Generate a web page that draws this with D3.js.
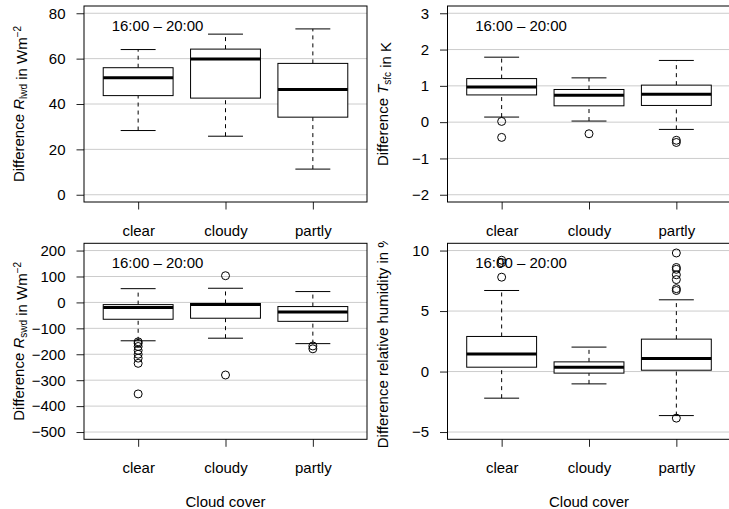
<!DOCTYPE html>
<html>
<head>
<meta charset="utf-8">
<script src="https://cdn.jsdelivr.net/npm/d3@7"></script>
<style>
  body { margin: 0; background: #fff; }
  text { font-family: "Liberation Sans", Arial, Helvetica, sans-serif; }
</style>
</head>
<body>
<div id="chart"></div>
<script>
//Data: [lower whisker, q1, median, q3, upper whisker]

var categories = ["clear", "cloudy", "partly"];
var periodLabel = "16:00 \u2013 20:00";

var lwdStats = [[28.3, 43.7, 51.6, 56.0, 64.0],
                [25.8, 42.6, 59.8, 64.2, 70.8],
                [11.3, 34.2, 46.4, 57.9, 73.1]];
var lwdOut = [[], [], []];
var lwdTicks = [0, 20, 40, 60, 80];

var tsfcStats = [[0.14, 0.75, 0.97, 1.20, 1.79],
                 [0.03, 0.45, 0.74, 0.90, 1.22],
                 [-0.20, 0.46, 0.77, 1.02, 1.70]];
var tsfcOut = [[0.02, -0.42], [-0.32], [-0.50, -0.56]];
var tsfcTicks = [-2, -1, 0, 1, 2, 3];

var swdStats = [[-148, -65, -20, -8.5, 53],
                [-138, -61, -8, -4, 54.6],
                [-159, -73, -37, -16, 41.8]];
var swdOut = [[-152, -158, -170, -185, -200, -215, -235, -353], [103, -280], [-168, -179]];
var swdTicks = [-500, -400, -300, -200, -100, 0, 100, 200];

var rhStats = [[-2.2, 0.36, 1.44, 2.90, 6.70],
               [-1.02, -0.13, 0.36, 0.80, 2.02],
               [-3.64, 0.11, 1.07, 2.68, 5.93]];
var rhOut = [[9.2, 9.0, 7.8], [], [9.8, 8.6, 8.45, 8.0, 7.6, 6.85, 6.7, -3.85]];
var rhTicks = [-5, 0, 5, 10];

var svgWidth = 729;
var svgHeight = 509;

var svg = d3.select("#chart")
  .append("svg")
  .attr("width", svgWidth)
  .attr("height", svgHeight);

//clip for the bottom right figure region (its y label runs off the top)
svg.append("clipPath")
  .attr("id", "clipBR")
  .append("rect")
  .attr("x", 365).attr("y", 241)
  .attr("width", 364).attr("height", 268);

var panels = [
  {x0: 84, y0: 6, stats: lwdStats, out: lwdOut, ylim: [0, 80], ticks: lwdTicks,
   ylab: ["Difference ", {i: "R"}, {sub: "lwd"}, " in Wm", {sup: "\u22122"}], xlab: false},
  {x0: 447.5, y0: 6, stats: tsfcStats, out: tsfcOut, ylim: [-2, 3], ticks: tsfcTicks,
   ylab: ["Difference ", {i: "T"}, {sub: "sfc"}, " in K"], xlab: false},
  {x0: 84, y0: 243.3, stats: swdStats, out: swdOut, ylim: [-500, 200], ticks: swdTicks,
   ylab: ["Difference ", {i: "R"}, {sub: "swd"}, " in Wm", {sup: "\u22122"}], xlab: true},
  {x0: 447.5, y0: 243.3, stats: rhStats, out: rhOut, ylim: [-5, 10], ticks: rhTicks,
   ylab: ["Difference relative humidity in %"], xlab: true, clip: "clipBR"}
];

var plotW = 283;
var plotH = 196;

panels.forEach(function(p) {
  var g = svg.append("g");

  var x = d3.scaleLinear()
    .domain([0.38, 3.62])
    .range([p.x0, p.x0 + plotW]);

  var ext = (p.ylim[1] - p.ylim[0]) * 0.04;
  var y = d3.scaleLinear()
    .domain([p.ylim[0] - ext, p.ylim[1] + ext])
    .range([p.y0 + plotH, p.y0]);

  //grid lines
  g.selectAll(".grid")
    .data(p.ticks)
    .enter()
    .append("line")
    .attr("x1", p.x0).attr("x2", p.x0 + plotW)
    .attr("y1", d => y(d)).attr("y2", d => y(d))
    .attr("stroke", "#cccccc")
    .attr("stroke-width", 1);

  //y axis, R style: ticks out, labels horizontal
  var leftAxis = d3.axisLeft(y)
    .tickValues(p.ticks)
    .tickSize(7.5)
    .tickPadding(11)
    .tickFormat(d3.format("d"));

  var yAxis = g.append("g")
    .attr("transform", `translate(${p.x0}, 0)`)
    .call(leftAxis);
  yAxis.select(".domain").remove();
  yAxis.selectAll("text").attr("font-size", "15px").attr("font-family", null);
  yAxis.selectAll("line").attr("stroke", "#222");

  //x axis
  var bottomAxis = d3.axisBottom(x)
    .tickValues([1, 2, 3])
    .tickSize(7.5)
    .tickPadding(16)
    .tickFormat((d, i) => categories[i]);

  var xAxis = g.append("g")
    .attr("transform", `translate(0, ${p.y0 + plotH})`)
    .call(bottomAxis);
  xAxis.select(".domain").remove();
  xAxis.selectAll("text").attr("font-size", "15px").attr("font-family", null);
  xAxis.selectAll("line").attr("stroke", "#222");

  //boxes
  var boxes = g.selectAll(".box")
    .data(p.stats)
    .enter()
    .append("g");

  //dashed whiskers
  boxes.append("line")
    .attr("x1", (d, i) => x(i + 1)).attr("x2", (d, i) => x(i + 1))
    .attr("y1", d => y(d[0])).attr("y2", d => y(d[1]))
    .attr("stroke", "#000").attr("stroke-dasharray", "4,4");
  boxes.append("line")
    .attr("x1", (d, i) => x(i + 1)).attr("x2", (d, i) => x(i + 1))
    .attr("y1", d => y(d[3])).attr("y2", d => y(d[4]))
    .attr("stroke", "#000").attr("stroke-dasharray", "4,4");

  //staples
  [0, 4].forEach(function(k) {
    boxes.append("line")
      .attr("x1", (d, i) => x(i + 0.8)).attr("x2", (d, i) => x(i + 1.2))
      .attr("y1", d => y(d[k])).attr("y2", d => y(d[k]))
      .attr("stroke", "#000");
  });

  boxes.append("rect")
    .attr("x", (d, i) => x(i + 0.6))
    .attr("width", x(1.4) - x(0.6))
    .attr("y", d => y(d[3]))
    .attr("height", d => y(d[1]) - y(d[3]))
    .attr("fill", "#fff")
    .attr("stroke", "#000");

  boxes.append("line")
    .attr("x1", (d, i) => x(i + 0.6)).attr("x2", (d, i) => x(i + 1.4))
    .attr("y1", d => y(d[2])).attr("y2", d => y(d[2]))
    .attr("stroke", "#000").attr("stroke-width", 3);

  //outliers
  p.out.forEach(function(vals, i) {
    g.selectAll(null)
      .data(vals)
      .enter()
      .append("circle")
      .attr("cx", x(i + 1))
      .attr("cy", d => y(d))
      .attr("r", 4)
      .attr("fill", "none")
      .attr("stroke", "#000");
  });

  //plot frame
  g.append("rect")
    .attr("x", p.x0).attr("y", p.y0)
    .attr("width", plotW).attr("height", plotH)
    .attr("fill", "none")
    .attr("stroke", "#000");

  //period label
  g.append("text")
    .attr("x", p.x0 + 27.7)
    .attr("y", p.y0 + 25)
    .attr("font-size", "15px")
    .text(periodLabel);

  //y label
  var ylab = g.append("text")
    .attr("transform", `translate(${p.x0 - 60}, ${p.y0 + plotH / 2}) rotate(-90)`)
    .attr("text-anchor", "middle")
    .attr("font-size", "15px");
  p.ylab.forEach(function(part) {
    if (typeof part === "string") {
      ylab.append("tspan").text(part);
    } else if (part.i) {
      ylab.append("tspan").attr("font-style", "italic").text(part.i);
    } else if (part.sub) {
      ylab.append("tspan").attr("font-size", "10px").attr("dy", 3).text(part.sub);
      ylab.append("tspan").attr("dy", -3).text("");
    } else if (part.sup) {
      ylab.append("tspan").attr("font-size", "10px").attr("dy", -6).text(part.sup);
    }
  });
  if (p.clip) {
    var wrap = g.append("g").attr("clip-path", `url(#${p.clip})`);
    wrap.node().appendChild(ylab.node());
  }

  //x label
  if (p.xlab) {
    g.append("text")
      .attr("x", p.x0 + plotW / 2)
      .attr("y", p.y0 + plotH + 68)
      .attr("text-anchor", "middle")
      .attr("font-size", "15px")
      .text("Cloud cover");
  }
});
</script>
</body>
</html>
